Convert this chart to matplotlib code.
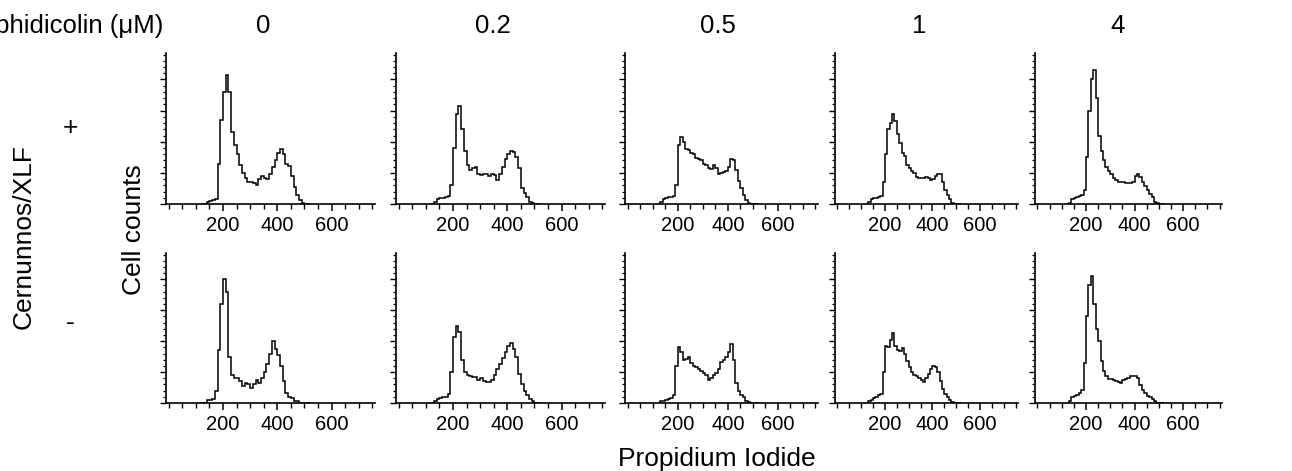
import numpy as np
import matplotlib.pyplot as plt
from matplotlib.ticker import MultipleLocator

W, H = 1292, 471
plt.rcParams['font.family'] = ['Liberation Sans', 'DejaVu Sans']

# aphidicolin doses (column headers)
doses = ['0', '0.2', '0.5', '1', '4']

# bin edges along propidium iodide axis (10 channel bins)
edges = np.arange(120, 530, 10)

# cell counts per bin, Cernunnos/XLF "+" row
plus_0 = [0, 0, 5, 10, 12, 15, 130, 270, 360, 415, 360, 230, 190, 160, 125, 100, 85, 72, 70, 68,
          60, 80, 90, 85, 80, 95, 120, 140, 165, 178, 160, 128, 122, 90, 55, 30, 12, 3, 0, 0]
plus_02 = [0, 5, 15, 20, 20, 22, 25, 60, 180, 290, 315, 240, 170, 125, 108, 115, 118, 95, 92, 97,
           95, 90, 95, 92, 78, 95, 120, 145, 160, 170, 168, 150, 115, 50, 35, 22, 8, 3, 0, 0]
plus_05 = [0, 5, 15, 20, 22, 24, 26, 60, 190, 215, 200, 178, 172, 165, 160, 148, 145, 142, 130, 125,
           115, 112, 125, 115, 95, 98, 103, 105, 118, 145, 140, 108, 75, 50, 30, 12, 2, 0, 0, 0]
plus_1 = [0, 5, 15, 20, 20, 22, 25, 70, 160, 240, 260, 290, 265, 225, 195, 165, 155, 125, 115, 105,
          98, 88, 85, 82, 84, 87, 82, 76, 80, 90, 95, 97, 70, 45, 30, 16, 4, 0, 0, 0]
plus_4 = [0, 4, 15, 20, 22, 25, 30, 45, 150, 300, 400, 430, 340, 220, 170, 140, 120, 105, 95, 85,
          78, 72, 72, 70, 68, 66, 66, 72, 90, 95, 88, 72, 58, 45, 32, 22, 8, 2, 0, 0]

# cell counts per bin, Cernunnos/XLF "-" row
minus_0 = [0, 0, 10, 10, 12, 40, 170, 320, 400, 360, 150, 90, 82, 80, 72, 55, 65, 62, 50, 60,
           75, 65, 80, 100, 125, 160, 200, 175, 155, 120, 70, 32, 20, 15, 8, 5, 0, 0, 0, 0]
minus_02 = [0, 8, 14, 16, 18, 20, 30, 100, 215, 250, 230, 140, 100, 92, 88, 85, 84, 75, 82, 72,
            68, 68, 75, 90, 110, 125, 145, 165, 185, 195, 175, 148, 95, 60, 40, 25, 12, 5, 0, 0]
minus_05 = [0, 5, 8, 10, 14, 16, 25, 120, 180, 165, 138, 142, 150, 130, 120, 115, 110, 104, 96, 90,
            75, 80, 90, 98, 110, 132, 140, 150, 165, 192, 140, 65, 38, 26, 18, 8, 2, 0, 0, 0]
minus_1 = [0, 5, 10, 15, 20, 25, 30, 100, 185, 180, 205, 225, 185, 172, 168, 178, 160, 135, 115, 100,
           92, 88, 82, 75, 68, 80, 95, 110, 120, 118, 100, 70, 45, 30, 18, 10, 3, 0, 0, 0]
minus_4 = [0, 8, 20, 24, 26, 32, 42, 130, 280, 380, 410, 320, 240, 200, 135, 105, 88, 78, 76, 75,
           72, 68, 66, 74, 76, 82, 86, 88, 86, 80, 58, 42, 32, 24, 20, 12, 6, 0, 0, 0]

plus_rows = [plus_0, plus_02, plus_05, plus_1, plus_4]
minus_rows = [minus_0, minus_02, minus_05, minus_1, minus_4]

# layout in pixels
panel_left = [166, 396, 625, 835, 1035]
panel_width = [209, 209, 193, 183, 187]
row_base = [204, 403]
row_height = [151, 150]
header_x = [263, 493, 718, 919, 1118]


def px_box(left, base, width, height):
    return [left / W, (H - base) / H, width / W, height / H]


def px_text(x, y, s, **kw):
    fig.text(x / W, 1 - y / H, s, **kw)


fig = plt.figure(figsize=(W / 100, H / 100), dpi=100)

for r, rows in enumerate([plus_rows, minus_rows]):
    for c, counts in enumerate(rows):
        ax = fig.add_axes(px_box(panel_left[c], row_base[r], panel_width[c], row_height[r]))
        ax.stairs(counts, edges, color='black', lw=1.1)
        ax.set_xlim(-10, 760)
        ax.set_ylim(0, 485)
        for side in ['top', 'right']:
            ax.spines[side].set_visible(False)
        for side in ['left', 'bottom']:
            ax.spines[side].set_linewidth(1.2)
        ax.set_xticks([200, 400, 600])
        ax.set_xticklabels(['200', '400', '600'])
        ax.xaxis.set_minor_locator(MultipleLocator(50))
        ax.yaxis.set_major_locator(MultipleLocator(100))
        ax.yaxis.set_minor_locator(MultipleLocator(20))
        ax.set_yticklabels([])
        ax.tick_params(axis='x', which='major', direction='out', length=5, width=1.1,
                       labelsize=14.5, pad=3.5)
        ax.tick_params(axis='x', which='minor', direction='out', length=3.5, width=1.0)
        ax.tick_params(axis='y', which='major', direction='out', length=4, width=1.0)
        ax.tick_params(axis='y', which='minor', direction='out', length=2.5, width=0.9)

px_text(163, 33, 'Aphidicolin (\u03bcM)', ha='right', va='baseline', fontsize=18.5)
for x, d in zip(header_x, doses):
    px_text(x, 33, d, ha='center', va='baseline', fontsize=18.5)

px_text(70, 128, '+', ha='center', va='center', fontsize=19)
px_text(70, 323, '-', ha='center', va='center', fontsize=19)
px_text(24, 237, 'Cernunnos/XLF', ha='center', va='center', rotation=90, fontsize=19)
px_text(134, 230, 'Cell counts', ha='center', va='center', rotation=90, fontsize=19)
px_text(717, 466, 'Propidium Iodide', ha='center', va='baseline', fontsize=19)

fig.savefig('out.png', dpi=100)
